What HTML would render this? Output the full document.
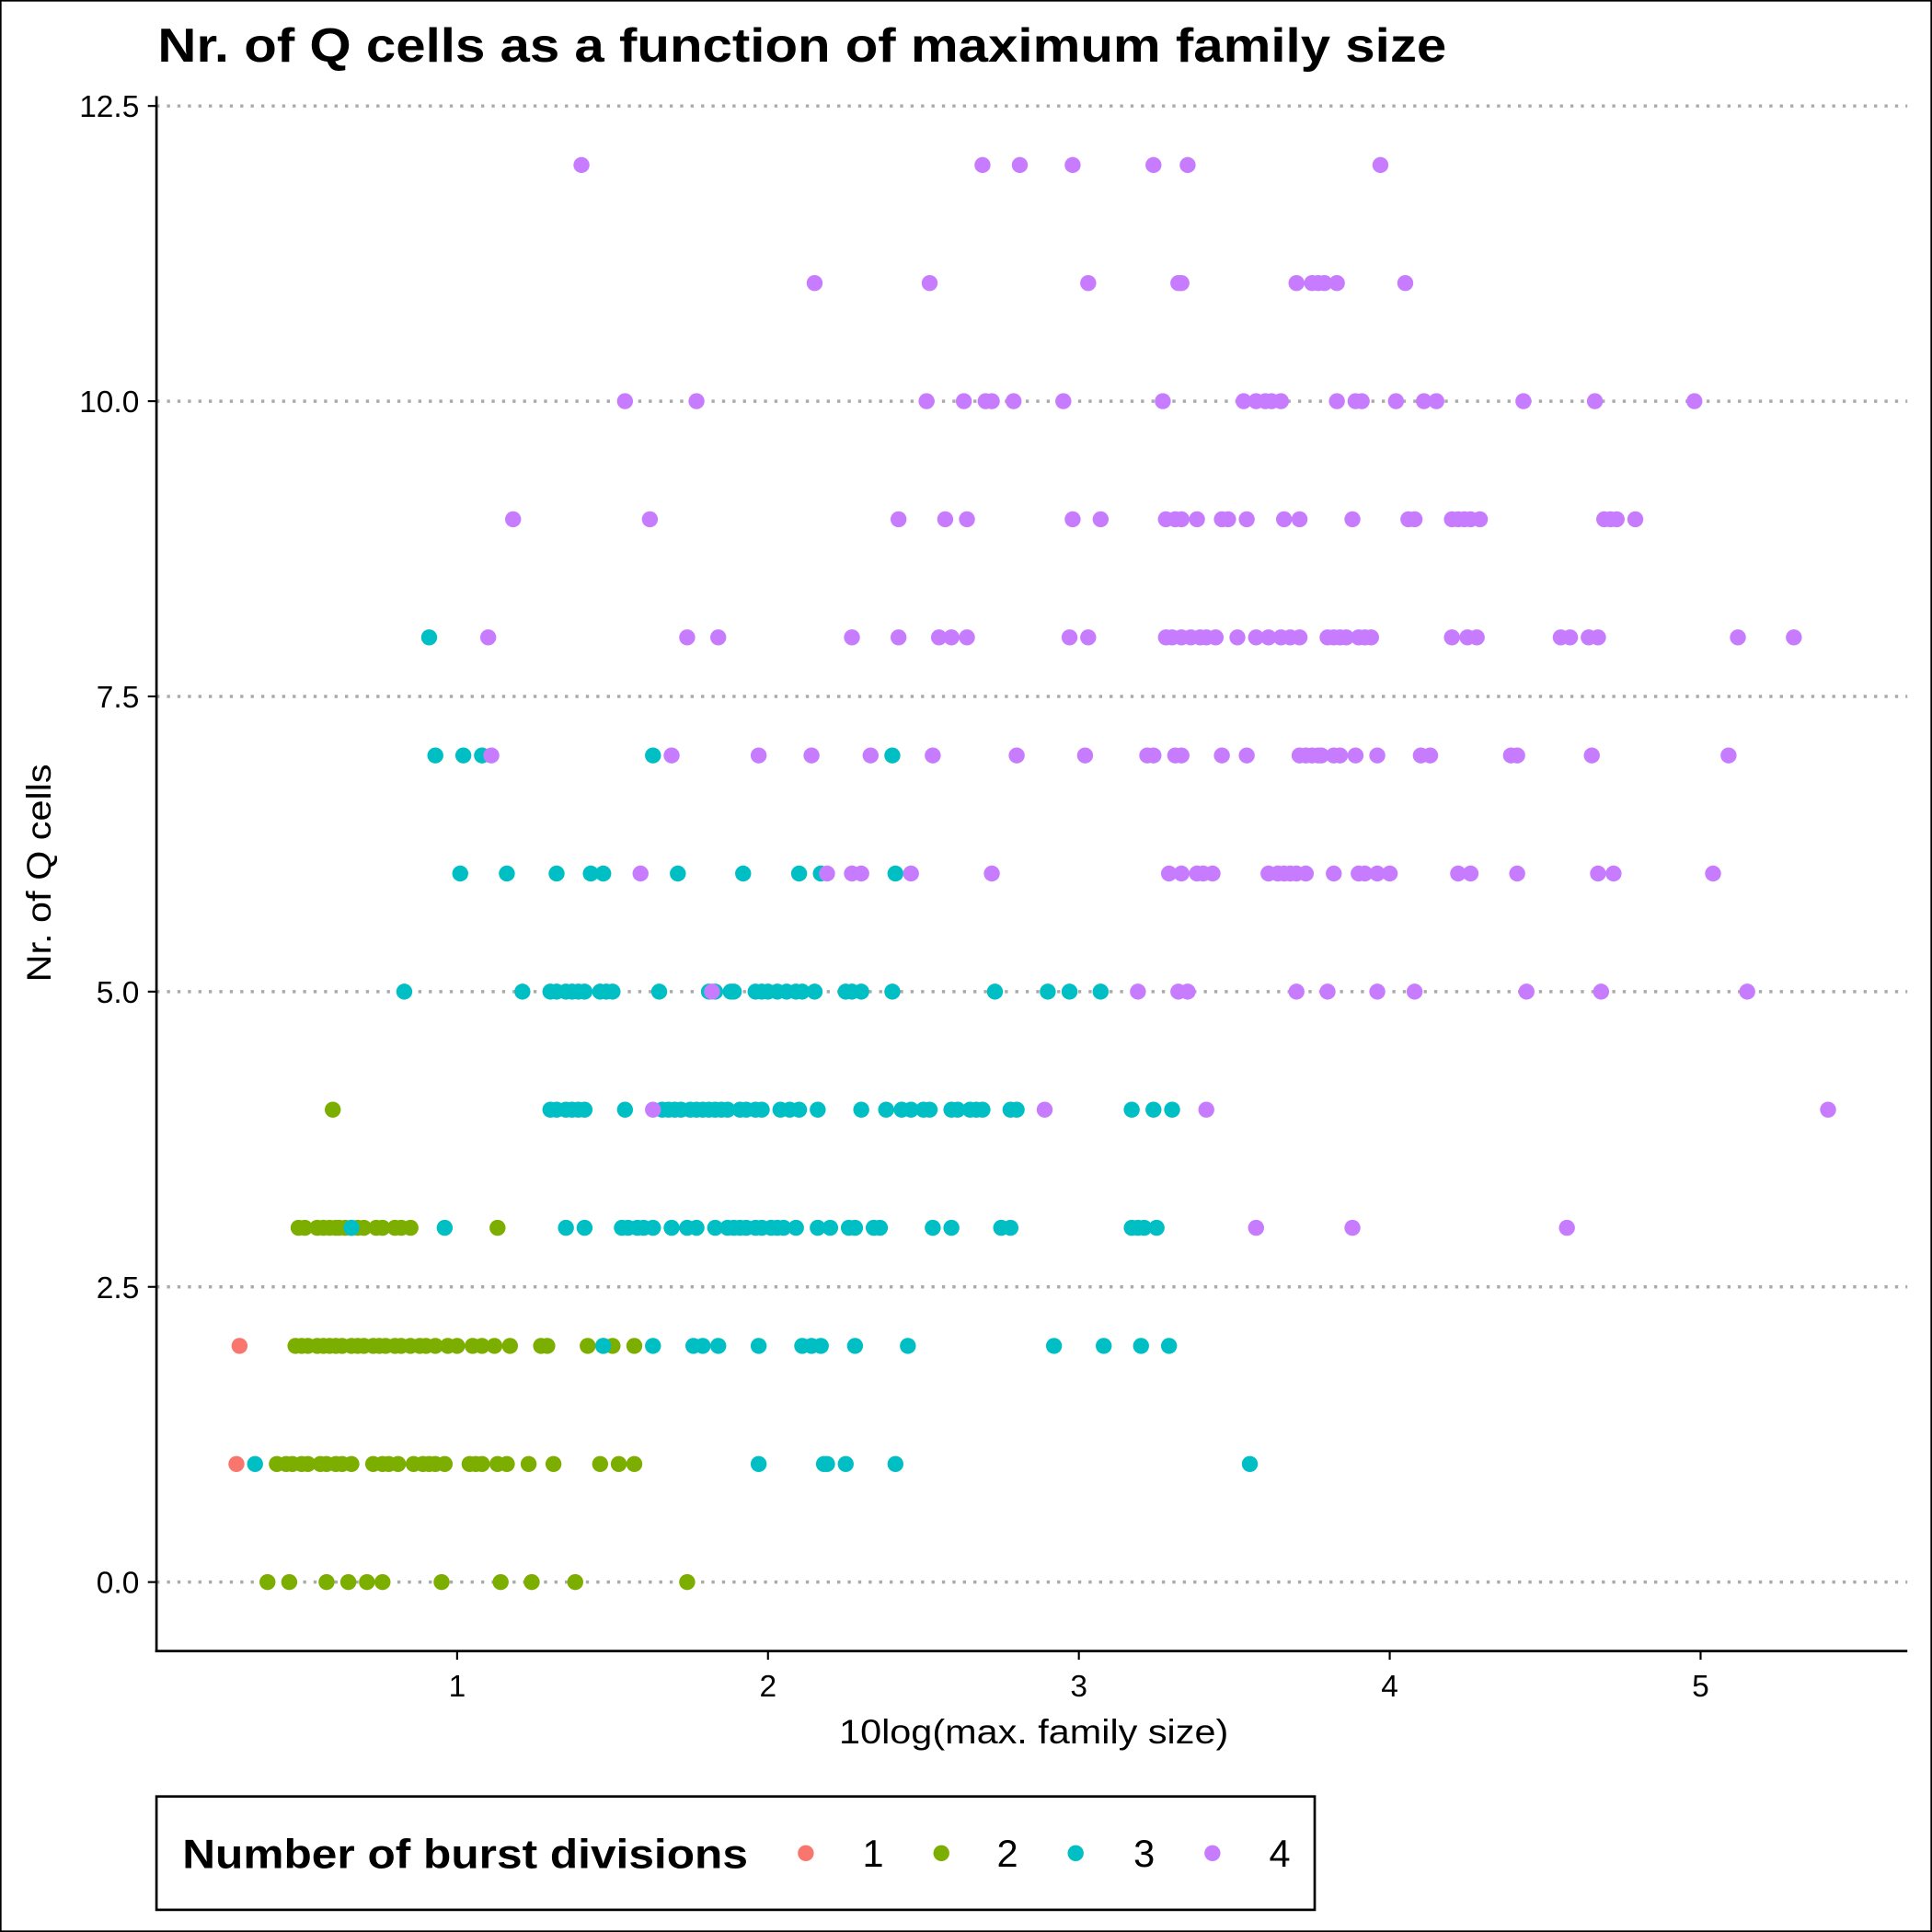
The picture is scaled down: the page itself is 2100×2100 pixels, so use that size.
<!DOCTYPE html>
<html><head><meta charset="utf-8"><style>html,body{margin:0;padding:0;background:#fff}svg{display:block}</style></head>
<body>
<svg id="chart" width="2100" height="2100" viewBox="0 0 1568 1568" xmlns="http://www.w3.org/2000/svg" font-family="'Liberation Sans', Arial, sans-serif">
<rect x="0.5" y="0.5" width="1567" height="1567" fill="#fff" stroke="#000" stroke-width="1.5"/>
<text x="128" y="50" font-size="39" font-weight="bold" textLength="1046" lengthAdjust="spacingAndGlyphs">Nr. of Q cells as a function of maximum family size</text>
<g id="grid"></g>
<g id="pts"></g>
<g id="axes"></g>
<text x="681" y="1415" font-size="28" textLength="316" lengthAdjust="spacingAndGlyphs">10log(max. family size)</text>
<text transform="translate(41,797) rotate(-90)" font-size="28" textLength="177" lengthAdjust="spacingAndGlyphs">Nr. of Q cells</text>
<g>
<rect x="127" y="1458" width="940" height="92" fill="#fff" stroke="#000" stroke-width="2"/>
<text x="148" y="1516" font-size="33" font-weight="bold" textLength="459" lengthAdjust="spacingAndGlyphs">Number of burst divisions</text>
<g><circle cx="654" cy="1504" r="6.5" fill="#F8766D"/><text x="700" y="1515" font-size="31">1</text></g>
<g><circle cx="764" cy="1504" r="6.5" fill="#7CAE00"/><text x="809" y="1515" font-size="31">2</text></g>
<g><circle cx="873" cy="1504" r="6.5" fill="#00BFC4"/><text x="920" y="1515" font-size="31">3</text></g>
<g><circle cx="984" cy="1504" r="6.5" fill="#C77CFF"/><text x="1030" y="1515" font-size="31">4</text></g>
</g>
</svg>
<script>
const colors = ["#F8766D","#7CAE00","#00BFC4","#C77CFF"];
const xTicks = [1,2,3,4,5];
const yTicks = [0,2.5,5,7.5,10,12.5];
const yTickLabels = ["0.0","2.5","5.0","7.5","10.0","12.5"];
const g1 = [[2,[0.30]],[1,[0.29]]];
const g2 = [
[4,[0.60]],
[3,[0.49,0.51,0.55,0.57,0.59,0.61,0.62,0.64,0.66,0.68,0.70,0.74,0.76,0.80,0.82,0.85,1.13]],
[2,[0.48,0.50,0.52,0.55,0.57,0.59,0.61,0.63,0.66,0.68,0.70,0.73,0.75,0.77,0.80,0.82,0.85,0.88,0.90,0.93,0.97,1.00,1.05,1.08,1.12,1.17,1.27,1.29,1.42,1.47,1.50,1.57]],
[1,[0.42,0.45,0.47,0.50,0.52,0.56,0.58,0.61,0.63,0.66,0.73,0.76,0.78,0.81,0.86,0.89,0.91,0.93,0.96,1.04,1.06,1.08,1.13,1.16,1.23,1.31,1.46,1.52,1.57]],
[0,[0.39,0.46,0.58,0.65,0.71,0.76,0.95,1.14,1.24,1.38,1.74]]];
const g3 = [
[8,[0.91]],
[7,[0.93,1.02,1.08,1.63,2.40]],
[6,[1.01,1.16,1.32,1.43,1.47,1.71,1.92,2.10,2.17,2.41]],
[5,[0.83,1.21,1.30,1.32,1.35,1.37,1.39,1.41,1.46,1.48,1.50,1.65,1.81,1.83,1.88,1.89,1.96,1.98,2.00,2.03,2.06,2.09,2.11,2.15,2.25,2.27,2.30,2.40,2.73,2.90,2.97,3.07]],
[4,[1.30,1.32,1.35,1.37,1.39,1.41,1.54,1.66,1.68,1.70,1.72,1.75,1.77,1.79,1.81,1.83,1.85,1.87,1.91,1.93,1.96,1.98,2.04,2.07,2.10,2.16,2.30,2.38,2.43,2.46,2.50,2.52,2.59,2.61,2.65,2.67,2.69,2.78,2.80,3.17,3.24,3.30]],
[3,[0.66,0.96,1.35,1.41,1.53,1.55,1.58,1.60,1.63,1.69,1.74,1.77,1.83,1.87,1.89,1.91,1.93,1.96,1.98,2.01,2.03,2.05,2.09,2.16,2.20,2.26,2.28,2.34,2.36,2.53,2.59,2.75,2.78,3.17,3.19,3.21,3.25]],
[2,[1.47,1.63,1.76,1.79,1.84,1.97,2.11,2.14,2.17,2.28,2.45,2.92,3.08,3.20,3.29]],
[1,[0.35,1.97,2.18,2.19,2.25,2.41,3.55]]];
const g4 = [
[12,[1.40,2.69,2.81,2.98,3.24,3.35,3.97]],
[11,[2.15,2.52,3.03,3.32,3.33,3.70,3.75,3.77,3.79,3.83,4.05]],
[10,[1.54,1.77,2.51,2.63,2.70,2.72,2.79,2.95,3.27,3.53,3.57,3.60,3.62,3.65,3.83,3.89,3.91,4.02,4.11,4.15,4.43,4.66,4.98]],
[9,[1.18,1.62,2.42,2.57,2.64,2.98,3.07,3.28,3.31,3.33,3.38,3.46,3.48,3.54,3.66,3.71,3.88,4.06,4.08,4.20,4.22,4.24,4.26,4.29,4.69,4.71,4.73,4.79]],
[8,[1.10,1.74,1.84,2.27,2.42,2.55,2.59,2.64,2.97,3.03,3.28,3.30,3.33,3.36,3.39,3.41,3.44,3.51,3.57,3.61,3.65,3.68,3.71,3.80,3.82,3.84,3.86,3.90,3.92,3.94,4.20,4.25,4.28,4.55,4.58,4.64,4.67,5.12,5.30]],
[7,[1.11,1.69,1.97,2.14,2.33,2.53,2.80,3.02,3.22,3.24,3.31,3.33,3.46,3.54,3.71,3.73,3.75,3.77,3.78,3.82,3.84,3.89,3.96,4.10,4.13,4.39,4.41,4.65,5.09]],
[6,[1.59,2.19,2.27,2.30,2.46,2.72,3.29,3.33,3.38,3.40,3.43,3.61,3.64,3.66,3.68,3.70,3.73,3.82,3.90,3.92,3.96,4.00,4.22,4.26,4.41,4.67,4.72,5.04]],
[5,[1.82,3.19,3.32,3.35,3.70,3.80,3.96,4.08,4.44,4.68,5.15]],
[4,[1.63,2.89,3.41,5.41]],
[3,[3.57,3.88,4.57]]];
const groups = [g1,g2,g3,g4];

const NS="http://www.w3.org/2000/svg";
const X = v => 118.7 + v*252.3;
const Y = v => 1284 - v*95.84;
function mk(tag, attrs, parent){const e=document.createElementNS(NS,tag);for(const k in attrs)e.setAttribute(k,attrs[k]);parent.appendChild(e);return e;}
const grid=document.getElementById('grid'), pts=document.getElementById('pts'), axes=document.getElementById('axes');
yTicks.forEach((t,i)=>{
  const l=mk('line',{x1:127,x2:1548,y1:Y(t),y2:Y(t),stroke:'#aaa','stroke-width':2.6,'stroke-dasharray':'2.5 6'},grid);
  
  
  const tk=mk('line',{x1:120,x2:127,y1:Y(t),y2:Y(t),stroke:'#000','stroke-width':1.6},axes);
  
  
  const tx=mk('text',{x:113,y:Y(t)+9,'font-size':25,'text-anchor':'end',fill:'#000'},axes);
  tx.textContent=yTickLabels[i];
  
  
});
xTicks.forEach(t=>{
  const tk=mk('line',{x1:X(t),x2:X(t),y1:1340,y2:1347,stroke:'#000','stroke-width':1.6},axes);
  
  
  const tx=mk('text',{x:X(t),y:1377,'font-size':25,'text-anchor':'middle',fill:'#000'},axes);
  tx.textContent=t;
  
  
});
const ay=mk('line',{x1:127,x2:127,y1:78,y2:1341,stroke:'#000','stroke-width':2},axes);


const ax=mk('line',{x1:126,x2:1548,y1:1340,y2:1340,stroke:'#000','stroke-width':2},axes);


groups.forEach((g,gi)=>{
  g.forEach(row=>{
    row[1].forEach(xv=>{
      const c=mk('circle',{cx:X(xv),cy:Y(row[0]),r:6.5,fill:colors[gi]},pts);
      
      
    });
  });
});
</script>
</body></html>
